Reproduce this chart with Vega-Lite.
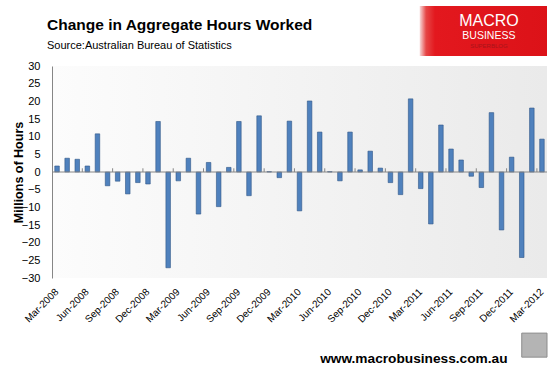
{
  "$schema": "https://vega.github.io/schema/vega-lite/v6.json",
  "width": 495,
  "height": 212,
  "autosize": {"type": "none"},
  "padding": {"left": 52, "top": 66, "right": 10, "bottom": 92},
  "background": "#ffffff",
  "view": {
    "stroke": null,
    "fill": {"gradient": "linear", "x1": 0, "y1": 0, "x2": 1, "y2": 0,
      "stops": [{"offset": 0, "color": "#fcfcfc"}, {"offset": 1, "color": "#eaeaea"}]}
  },
  "config": {
    "axisY": {
      "tickCount": 13,
      "labelOverlap": false,
      "grid": false,
      "ticks": false,
      "domainColor": "#868686",
      "labelFont": "Liberation Sans",
      "labelFontSize": 11,
      "labelColor": "#000000",
      "labelPadding": 12
    }
  },
  "title": {
    "text": "Change in Aggregate Hours Worked",
    "subtitle": "Source:Australian Bureau of Statistics",
    "anchor": "start",
    "frame": "group",
    "dx": -5,
    "offset": -45,
    "font": "Liberation Sans",
    "fontSize": 15.5,
    "fontWeight": "bold",
    "color": "#000000",
    "subtitleFont": "Liberation Sans",
    "subtitleFontSize": 11,
    "subtitleColor": "#000000",
    "subtitlePadding": 6
  },
  "data": {
    "values": [
      {"month": "Mar-2008", "hours": 1.7},
      {"month": "Apr-2008", "hours": 3.9},
      {"month": "May-2008", "hours": 3.6},
      {"month": "Jun-2008", "hours": 1.7},
      {"month": "Jul-2008", "hours": 10.8},
      {"month": "Aug-2008", "hours": -3.9},
      {"month": "Sep-2008", "hours": -2.6},
      {"month": "Oct-2008", "hours": -6.2},
      {"month": "Nov-2008", "hours": -3.0},
      {"month": "Dec-2008", "hours": -3.4},
      {"month": "Jan-2009", "hours": 14.3},
      {"month": "Feb-2009", "hours": -27.1},
      {"month": "Mar-2009", "hours": -2.5},
      {"month": "Apr-2009", "hours": 3.9},
      {"month": "May-2009", "hours": -11.9},
      {"month": "Jun-2009", "hours": 2.7},
      {"month": "Jul-2009", "hours": -9.8},
      {"month": "Aug-2009", "hours": 1.3},
      {"month": "Sep-2009", "hours": 14.3},
      {"month": "Oct-2009", "hours": -6.7},
      {"month": "Nov-2009", "hours": 15.9},
      {"month": "Dec-2009", "hours": 0.1},
      {"month": "Jan-2010", "hours": -1.6},
      {"month": "Feb-2010", "hours": 14.4},
      {"month": "Mar-2010", "hours": -11.0},
      {"month": "Apr-2010", "hours": 20.1},
      {"month": "May-2010", "hours": 11.3},
      {"month": "Jun-2010", "hours": 0.1},
      {"month": "Jul-2010", "hours": -2.5},
      {"month": "Aug-2010", "hours": 11.3},
      {"month": "Sep-2010", "hours": 0.6},
      {"month": "Oct-2010", "hours": 5.9},
      {"month": "Nov-2010", "hours": 1.1},
      {"month": "Dec-2010", "hours": -3.0},
      {"month": "Jan-2011", "hours": -6.4},
      {"month": "Feb-2011", "hours": 20.7},
      {"month": "Mar-2011", "hours": -4.7},
      {"month": "Apr-2011", "hours": -14.7},
      {"month": "May-2011", "hours": 13.3},
      {"month": "Jun-2011", "hours": 6.5},
      {"month": "Jul-2011", "hours": 3.4},
      {"month": "Aug-2011", "hours": -1.2},
      {"month": "Sep-2011", "hours": -4.4},
      {"month": "Oct-2011", "hours": 16.8},
      {"month": "Nov-2011", "hours": -16.4},
      {"month": "Dec-2011", "hours": 4.2},
      {"month": "Jan-2012", "hours": -24.2},
      {"month": "Feb-2012", "hours": 18.1},
      {"month": "Mar-2012", "hours": 9.3}
    ]
  },
  "encoding": {
    "x": {
      "field": "month",
      "type": "nominal",
      "sort": null,
      "scale": {"type": "band", "paddingInner": 0, "paddingOuter": 0},
      "axis": {
        "values": ["Mar-2008", "Jun-2008", "Sep-2008", "Dec-2008", "Mar-2009", "Jun-2009", "Sep-2009", "Dec-2009", "Mar-2010", "Jun-2010", "Sep-2010", "Dec-2010", "Mar-2011", "Jun-2011", "Sep-2011", "Dec-2011", "Mar-2012"],
        "domain": false,
        "ticks": false,
        "grid": false,
        "labelAngle": -45,
        "labelAlign": "right",
        "labelBaseline": "middle",
        "labelPadding": 12,
        "labelFont": "Liberation Sans",
        "labelFontSize": 10,
        "labelColor": "#000000",
        "labelOverlap": false,
        "title": "www.macrobusiness.com.au",
        "titleFont": "Liberation Sans",
        "titleFontSize": 13.7,
        "titleFontWeight": "bold",
        "titleColor": "#000000",
        "titleAlign": "right",
        "titleBaseline": "alphabetic",
        "titleAnchor": null,
        "titleX": 455,
        "titleY": 84
      }
    }
  },
  "layer": [
    {
      "mark": {"type": "bar", "width": {"band": 0.45}, "fill": "#4f81bd", "stroke": "#2f5687", "strokeWidth": 0.6},
      "encoding": {
        "y": {
          "field": "hours",
          "type": "quantitative",
          "scale": {"domain": [-30, 30], "nice": false},
          "axis": {
            "title": "Millions of Hours",
            "titleFont": "Liberation Sans",
            "titleFontSize": 12.5,
            "titleFontWeight": "bold",
            "titleColor": "#000000",
            "titleBaseline": "middle",
            "titleX": -34
          }
        }
      }
    },
    {
      "data": {"values": [{}]},
      "mark": {"type": "rule", "color": "#868686", "strokeWidth": 1},
      "encoding": {"x": null, "y": {"datum": 0}}
    },
    {
      "transform": [{"filter": "test(/^(Mar|Jun|Sep|Dec)/, datum.month) && datum.month !== 'Mar-2008'"}],
      "mark": {"type": "rule", "color": "#868686", "strokeWidth": 1},
      "encoding": {
        "x": {"field": "month", "type": "nominal", "bandPosition": 0},
        "y": {"datum": 0},
        "y2": {"datum": 1.05}
      }
    },
    {
      "data": {"values": [{}]},
      "mark": {"type": "rect", "clip": false,
        "fill": {"gradient": "linear", "x1": 0, "y1": 0, "x2": 1, "y2": 0,
          "stops": [{"offset": 0, "color": "#f7dada"}, {"offset": 0.05, "color": "#e64646"}, {"offset": 0.12, "color": "#e3181e"}, {"offset": 1, "color": "#dc1218"}]}},
      "encoding": {
        "x": {"datum": "Mar-2011", "bandPosition": 0.4},
        "x2": {"datum": "Mar-2012", "bandPosition": 1},
        "y": {"datum": 47.0},
        "y2": {"datum": 32.8}
      }
    },
    {
      "data": {"values": [{}]},
      "mark": {"type": "text", "clip": false, "text": "MACRO", "font": "Liberation Sans", "fontSize": 16, "color": "#ffffff", "align": "center", "baseline": "alphabetic"},
      "encoding": {"x": {"datum": "Oct-2011", "bandPosition": 0.25}, "y": {"datum": 41.3}}
    },
    {
      "data": {"values": [{}]},
      "mark": {"type": "text", "clip": false, "text": "BUSINESS", "font": "Liberation Sans", "fontSize": 10.5, "color": "#ffffff", "align": "center", "baseline": "alphabetic"},
      "encoding": {"x": {"datum": "Oct-2011", "bandPosition": 0.25}, "y": {"datum": 37.6}}
    },
    {
      "data": {"values": [{}]},
      "mark": {"type": "text", "clip": false, "text": "SUPERBLOG", "font": "Liberation Sans", "fontSize": 6, "color": "#a8141a", "align": "center", "baseline": "alphabetic"},
      "encoding": {"x": {"datum": "Oct-2011", "bandPosition": 0.25}, "y": {"datum": 35.1}}
    },
    {
      "data": {"values": [{}]},
      "mark": {"type": "rect", "clip": false, "fill": "#b4b4b4", "stroke": "#8c8c8c", "strokeWidth": 1},
      "encoding": {
        "x": {"datum": "Jan-2012", "bandPosition": 0.5},
        "x2": {"datum": "Mar-2012", "bandPosition": 1},
        "y": {"datum": -45.6},
        "y2": {"datum": -52.4}
      }
    }
  ]
}
